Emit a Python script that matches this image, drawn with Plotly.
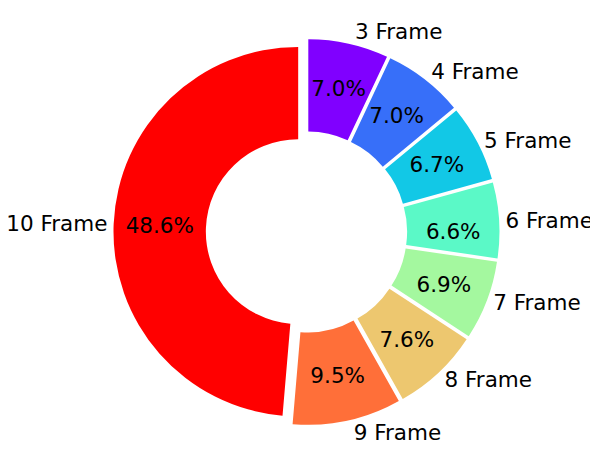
import plotly.graph_objects as go

# Share of samples per frame count
labels = ['3 Frame', '4 Frame', '5 Frame', '6 Frame', '7 Frame', '8 Frame', '9 Frame', '10 Frame']
shares = [7.0, 7.0, 6.7, 6.6, 6.9, 7.6, 9.5, 48.6]

# matplotlib "rainbow" colormap sampled at 8 points
colors = ['#8000ff', '#376ff9', '#12c8e6', '#5bf9c7', '#a4f89f', '#edc76f', '#ff6f39', '#ff0000']

font = dict(family='DejaVu Sans', size=21.5, color='black')
dom = dict(x=[0.1764, 0.8219], y=[0.0895, 0.9323])
pull = 0.045
clear = ['rgba(0,0,0,0)'] * len(labels)
pct = '%{value:.1f}%'

fig = go.Figure()

# Donut (percentage of the big slice sits mid-ring already)
fig.add_trace(go.Pie(
    labels=labels,
    values=shares,
    marker=dict(colors=colors, line=dict(width=0)),
    hole=0.5,
    pull=pull,
    sort=False,
    direction='clockwise',
    rotation=0,
    texttemplate=[''] * 7 + [pct],
    textposition='inside',
    insidetextorientation='horizontal',
    textfont=font,
    domain=dom,
    automargin=False,
    showlegend=False,
))

# Transparent, slightly smaller ring so the small slices' percentages land mid-ring
fig.add_trace(go.Pie(
    labels=labels,
    values=shares,
    marker=dict(colors=clear, line=dict(width=0)),
    hole=0.7,
    pull=0.051,
    sort=False,
    direction='clockwise',
    rotation=0,
    texttemplate=[pct] * 7 + [''],
    textposition='inside',
    insidetextorientation='horizontal',
    textfont=font,
    domain=dict(x=[0.2125, 0.7858], y=[0.1367, 0.8852]),
    automargin=False,
    showlegend=False,
    hoverinfo='skip',
))

# Transparent copy that carries the outside category labels
fig.add_trace(go.Pie(
    labels=labels,
    values=shares,
    marker=dict(colors=clear, line=dict(width=0)),
    hole=0.5,
    pull=pull,
    sort=False,
    direction='clockwise',
    rotation=0,
    texttemplate='%{label}',
    textposition='outside',
    textfont=font,
    domain=dom,
    automargin=False,
    showlegend=False,
    hoverinfo='skip',
))

fig.update_layout(
    width=598,
    height=458,
    margin=dict(l=0, r=0, t=0, b=0, autoexpand=False),
    paper_bgcolor='white',
    plot_bgcolor='white',
    uniformtext=dict(minsize=21.5, mode='show'),
)

fig.write_html("out.html")
